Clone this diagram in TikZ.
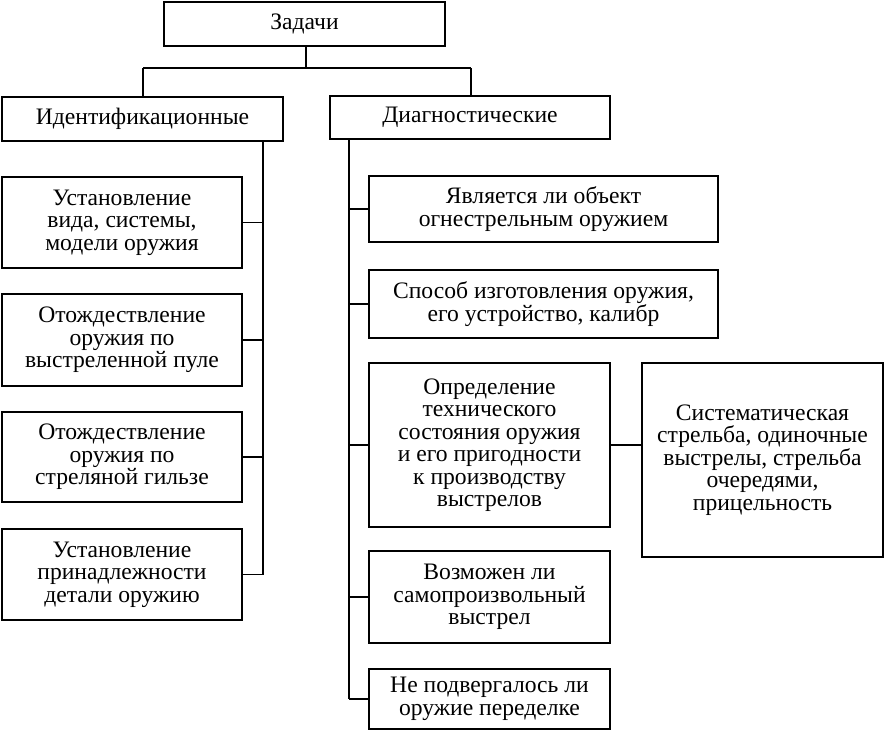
\documentclass[tikz,border=0pt]{standalone}
\usepackage{fontspec}
\setmainfont{Liberation Serif}
\newcommand{\boxfont}{\fontsize{23.6}{22.5}\selectfont\lineskiplimit=-50pt\relax}
\begin{document}
\begin{tikzpicture}[x=1pt,y=-1pt,
  box/.style={draw=black, line width=1.5pt, fill=white, inner sep=0pt, align=center,
    font=\boxfont},
  link/.style={draw=black, line width=1.5pt}]
\useasboundingbox[fill=white] (0,0) rectangle (885,731);
% top levels
\node[box, minimum width=281, minimum height=44] (Z) at (304.5,24) {Задачи};
\node[box, minimum width=281, minimum height=44] (I) at (142.5,119) {Идентификационные};
\node[box, minimum width=280, minimum height=43] (D) at (470,117.5) {Диагностические};
% left column
\node[box, minimum width=240, minimum height=91] (L1) at (122,222.5) {Установление\\вида, системы,\\модели оружия};
\node[box, minimum width=240, minimum height=92] (L2) at (122,340) {Отождествление\\оружия по\\выстреленной пуле};
\node[box, minimum width=240, minimum height=90] (L3) at (122,457) {Отождествление\\оружия по\\стреляной гильзе};
\node[box, minimum width=240, minimum height=91] (L4) at (122,574.5) {Установление\\принадлежности\\детали оружию};
% right column
\node[box, minimum width=349, minimum height=66] (R1) at (543.5,209) {Является ли объект\\огнестрельным оружием};
\node[box, minimum width=349, minimum height=68] (R2) at (543.5,304) {Способ изготовления оружия,\\его устройство, калибр};
\node[box, minimum width=241, minimum height=164] (R3) at (489.5,445) {Определение\\технического\\состояния оружия\\и его пригодности\\к производству\\выстрелов};
\node[box, minimum width=241, minimum height=194] (S) at (762.5,460) {Систематическая\\стрельба, одиночные\\выстрелы, стрельба\\очередями,\\прицельность};
\node[box, minimum width=241, minimum height=92] (R4) at (489.5,597) {Возможен ли\\самопроизвольный\\выстрел};
\node[box, minimum width=241, minimum height=60] (R5) at (489.5,699) {Не подвергалось ли\\оружие переделке};
% coordinates
\coordinate (zb) at (306,46);
\coordinate (hz) at (306,68);
\coordinate (hl) at (143,68);
\coordinate (hr) at (471,68);
\coordinate (lt) at (263,141);
\coordinate (lb) at (263,574.5);
\coordinate (rt) at (349,139);
\coordinate (rb) at (349,699);
% connectors
\draw[link] (zb) -- (hz);
\draw[link] (hl) -- (hr);
\draw[link] (hl) -- (hl |- I.north);
\draw[link] (hr) -- (hr |- D.north);
\draw[link] (lt) -- (lb);
\draw[link] (rt) -- (rb);
\foreach \n in {L1,L2,L3,L4} \draw[link] (\n.east) -- (\n.east -| lt);
\foreach \n in {R1,R2,R3,R4,R5} \draw[link] (\n.west) -- (\n.west -| rt);
\draw[link] (R3.east) -- (R3.east -| S.west);
\end{tikzpicture}
\end{document}
